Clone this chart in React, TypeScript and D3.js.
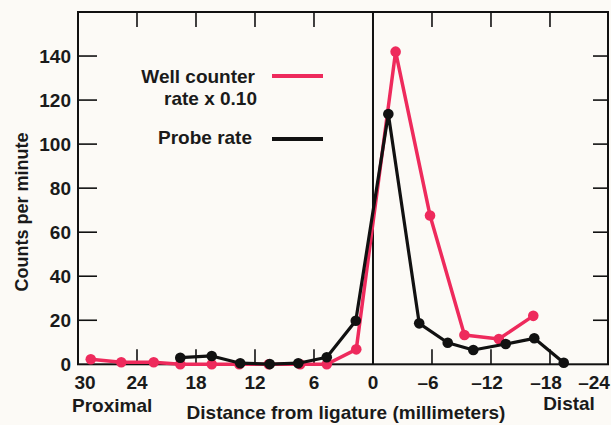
import * as d3 from 'd3';

// distance from ligature (mm) and counts per minute
const wellDist = [28.7, 25.6, 22.3, 19.6, 16.4, 13.6, 10.6, 7.4, 4.7, 1.7, -2.3, -5.8, -9.3, -12.8, -16.3];
const wellRate = [2.3, 0.9, 0.9, 0, 0, 0, 0, 0, 0, 6.8, 142, 67.6, 13.3, 11.5, 22];
const probeDist = [19.6, 16.4, 13.5, 10.5, 7.6, 4.7, 1.75, -1.56, -4.7, -7.6, -10.2, -13.5, -16.4, -19.4];
const probeRate = [3, 3.8, 0.5, 0.1, 0.5, 3.2, 19.8, 113.7, 18.6, 9.8, 6.5, 9.2, 11.8, 0.7];

const xTicks = [30, 24, 18, 12, 6, 0, -6, -12, -18, -24];
const yTicks = [0, 20, 40, 60, 80, 100, 120, 140];

const W = 611;
const H = 425;
const RED = '#ee2a5c';
const FONT = '"Liberation Sans", Arial, sans-serif';

export default function App() {
  const left = 78, right = 608, top = 12, bottom = 364.3;

  const x = d3.scaleLinear().domain([30, -23.9]).range([left, right]);
  const y = d3.scaleLinear().domain([0, 160]).range([bottom, top]);

  const wellPts = wellDist.map((d, i) => [d, wellRate[i]] as [number, number]);
  const probePts = probeDist.map((d, i) => [d, probeRate[i]] as [number, number]);

  const line = d3.line<[number, number]>()
    .x(d => x(d[0]))
    .y(d => y(d[1]));

  const innerX = xTicks.filter(t => t !== 0 && x(t) > left + 2 && x(t) < right - 2);
  const innerY = yTicks.filter(t => t > 0);

  const label = (t: number) => (t < 0 ? '\u2013' + Math.abs(t) : String(t));
  const labelX = (t: number) => {
    let px = x(t) + (t < 0 ? -4 : 0);
    return Math.min(Math.max(px, 85), 594);
  };

  return (
    <svg width={W} height={H} style={{ position: 'absolute', left: 0, top: 0 }}
      fontFamily={FONT} fontWeight="bold">
      <rect x={0} y={0} width={W} height={H} fill="#fcfaf6" />

      {/* frame */}
      <rect x={left} y={top} width={right - left} height={bottom - top}
        fill="none" stroke="#111" strokeWidth={2} />

      {/* x ticks, inside top and bottom */}
      {innerX.map(t => (
        <g key={'xt' + t} stroke="#111" strokeWidth={1.6}>
          <line x1={x(t)} x2={x(t)} y1={top} y2={top + 15} />
          <line x1={x(t)} x2={x(t)} y1={bottom} y2={bottom - 15} />
        </g>
      ))}

      {/* y ticks, inside left and right */}
      {innerY.map(t => (
        <g key={'yt' + t} stroke="#111" strokeWidth={1.6}>
          <line x1={left} x2={left + 19} y1={y(t)} y2={y(t)} />
          <line x1={right} x2={right - 15} y1={y(t)} y2={y(t)} />
        </g>
      ))}

      {/* ligature line */}
      <line x1={x(0)} x2={x(0)} y1={top} y2={bottom} stroke="#111" strokeWidth={2} />

      {/* y tick labels */}
      {yTicks.map(t => (
        <text key={'yl' + t} x={71} y={y(t)} dy="0.36em" textAnchor="end"
          fontSize={19} fill="#1a1a1a">{t}</text>
      ))}

      {/* x tick labels */}
      {xTicks.map(t => (
        <text key={'xl' + t} x={labelX(t)} y={389} textAnchor="middle"
          fontSize={19} fill="#1a1a1a">{label(t)}</text>
      ))}

      <text x={72} y={412} fontSize={19} fill="#1a1a1a">Proximal</text>
      <text x={569} y={410} textAnchor="middle" fontSize={19} fill="#1a1a1a">Distal</text>
      <text x={346} y={419} textAnchor="middle" fontSize={19} fill="#1a1a1a">
        Distance from ligature (millimeters)
      </text>
      <text transform="translate(28,212) rotate(-90)" textAnchor="middle"
        fontSize={18} fill="#1a1a1a">Counts per minute</text>

      {/* well counter series */}
      <path d={line(wellPts) ?? ''} fill="none" stroke={RED} strokeWidth={3.5}
        strokeLinejoin="round" />
      {wellPts.map((p, i) => (
        <circle key={'w' + i} cx={x(p[0])} cy={y(p[1])} r={5.3} fill={RED} />
      ))}

      {/* probe series */}
      <path d={line(probePts) ?? ''} fill="none" stroke="#111" strokeWidth={3.2}
        strokeLinejoin="round" />
      {probePts.map((p, i) => (
        <circle key={'p' + i} cx={x(p[0])} cy={y(p[1])} r={5.3} fill="#111" />
      ))}

      {/* legend */}
      <text x={255} y={83} textAnchor="end" fontSize={19} fill="#1a1a1a">Well counter</text>
      <text x={257} y={105} textAnchor="end" fontSize={19} fill="#1a1a1a">rate x 0.10</text>
      <line x1={272} x2={323} y1={76} y2={76} stroke={RED} strokeWidth={4} />
      <text x={252} y={144} textAnchor="end" fontSize={19} fill="#1a1a1a">Probe rate</text>
      <line x1={272} x2={323} y1={139} y2={139} stroke="#111" strokeWidth={4} />
    </svg>
  );
}
